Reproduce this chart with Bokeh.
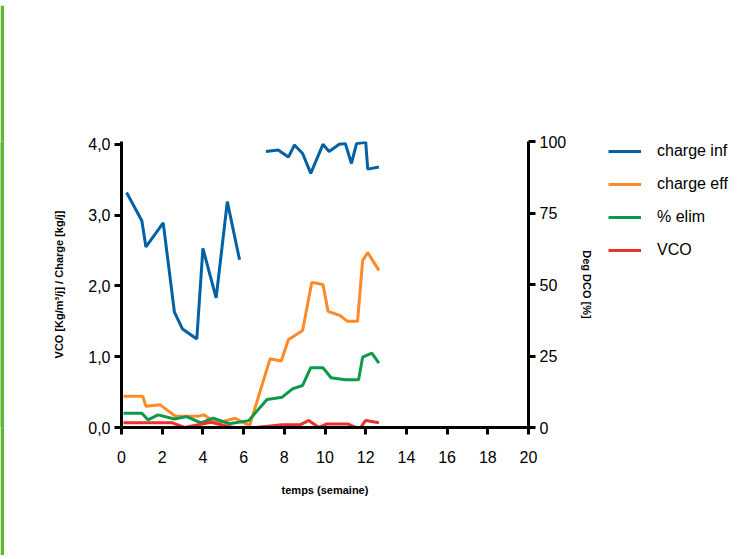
import math
from bokeh.plotting import figure
from bokeh.layouts import row, column
from bokeh.models import (Range1d, LinearAxis, Legend, LegendItem, CustomJSTickFormatter,
                          FixedTicker, ColumnDataSource)
from bokeh.embed import file_html
from bokeh.resources import INLINE

nan = float("nan")

# ---- data ----
weeks_inf = [0.25, 1.0, 1.2, 2.05, 2.6, 3.0, 3.7, 4.0, 4.65, 5.2, 5.8, nan,
             7.1, 7.7, 8.2, 8.5, 8.9, 9.3, 9.9, 10.2, 10.7, 11.0, 11.3, 11.55, 12.0, 12.1, 12.65]
charge_inf = [3.32, 2.92, 2.55, 2.89, 1.63, 1.39, 1.25, 2.53, 1.83, 3.19, 2.37, nan,
              3.90, 3.92, 3.82, 3.99, 3.87, 3.59, 4.00, 3.90, 4.00, 4.01, 3.73, 4.01, 4.03, 3.65, 3.68]

weeks_eff = [0.1, 1.05, 1.2, 1.9, 2.65, 3.8, 4.05, 4.4, 4.9, 5.6, 5.9, 6.3, 7.3, 7.85,
             8.2, 8.9, 9.35, 9.9, 10.15, 10.75, 11.1, 11.6, 11.85, 12.1, 12.65]
charge_eff = [0.44, 0.44, 0.30, 0.32, 0.16, 0.16, 0.18, 0.11, 0.08, 0.13, 0.08, 0.03, 0.97, 0.94,
              1.24, 1.37, 2.05, 2.02, 1.64, 1.58, 1.50, 1.50, 2.36, 2.47, 2.22]

weeks_elim = [0.1, 1.0, 1.3, 1.8, 2.6, 3.2, 3.9, 4.5, 5.3, 6.25, 7.15, 7.9, 8.4, 8.9,
              9.3, 9.9, 10.3, 11.0, 11.65, 11.85, 12.3, 12.65]
pct_elim = [5.0, 5.0, 2.7, 4.4, 3.0, 3.8, 1.6, 3.3, 1.3, 2.4, 9.8, 10.6, 13.5, 14.7,
            20.9, 20.9, 17.4, 16.7, 16.7, 24.6, 26.0, 22.5]

weeks_vco = [0.1, 2.5, 3.1, 4.4, 5.3, 6.0, 6.6, 7.9, 8.8, 9.2, 9.7, 10.1, 11.1, 11.7, 12.0, 12.65]
vco = [0.066, 0.066, 0.0, 0.075, 0.01, -0.02, 0.0, 0.04, 0.04, 0.10, 0.0, 0.05, 0.05, -0.02, 0.10, 0.066]

x_ticks = [0, 2, 4, 6, 8, 10, 12, 14, 16, 18, 20]
left_ticks = [0, 1, 2, 3, 4]
right_ticks = [0, 25, 50, 75, 100]

legend_labels = ["charge inf", "charge eff", "% elim", "VCO"]
colors = ["#0061a4", "#ff8a26", "#0b9a4a", "#e8322b"]
frame_green = "#5cb833"

LEFT_TOP = 4.04
RIGHT_TOP = 100.0

H = 550
W1 = 594
W2 = 147
FL, FR, FT, FB = 117, 524, 136, 422

FONT = "Liberation Sans"

p = figure(width=W1, height=H, output_backend="svg", toolbar_location=None,
           x_range=Range1d(0, 20), y_range=Range1d(0, LEFT_TOP),
           min_border_left=FL, min_border_right=W1 - FR,
           min_border_top=FT, min_border_bottom=H - FB)
p.extra_y_ranges = {"pct": Range1d(0, RIGHT_TOP)}
p.outline_line_color = None
p.xgrid.visible = False
p.ygrid.visible = False
p.background_fill_color = "white"
p.border_fill_color = "white"


def style_axis(ax):
    ax.axis_line_width = 3
    ax.axis_line_color = "black"
    ax.major_tick_line_width = 3
    ax.major_tick_line_color = "black"
    ax.major_tick_out = 7
    ax.major_tick_in = 0
    ax.minor_tick_line_color = None
    ax.major_label_text_font = FONT
    ax.major_label_text_font_size = "16px"
    ax.major_label_text_color = "black"
    ax.axis_label_text_font = FONT
    ax.axis_label_text_font_style = "bold"
    ax.axis_label_text_color = "black"


xa = p.xaxis[0]
style_axis(xa)
xa.ticker = FixedTicker(ticks=x_ticks)
xa.major_label_standoff = 16
xa.axis_label = "temps (semaine)"
xa.axis_label_text_font_size = "11px"
xa.axis_label_standoff = 18

ya = p.yaxis[0]
style_axis(ya)
ya.ticker = FixedTicker(ticks=left_ticks)
ya.formatter = CustomJSTickFormatter(code="return tick.toFixed(1).replace('.', ',');")
ya.major_label_standoff = 4
ya.axis_label = "VCO [Kg/m³/j] / Charge [kg/j]"
ya.axis_label_text_font_size = "11px"
ya.axis_label_standoff = 20

ra = LinearAxis(y_range_name="pct")
style_axis(ra)
ra.ticker = FixedTicker(ticks=right_ticks)
ra.major_label_standoff = 4
ra.axis_label = "Deg DCO [%]"
ra.axis_label_text_font_size = "11px"
ra.axis_label_standoff = 12
p.add_layout(ra, "right")

src_inf = ColumnDataSource(dict(x=weeks_inf, y=charge_inf))
p.line("x", "y", source=src_inf, line_color=colors[0], line_width=3)
p.line(weeks_eff, charge_eff, line_color=colors[1], line_width=3)
p.line(weeks_elim, pct_elim, y_range_name="pct", line_color=colors[2], line_width=3)
p.line(weeks_vco, vco, line_color=colors[3], line_width=3)

# ---- legend panel (same series, plotted out of view so only the key shows) ----
q = figure(width=W2, height=H, output_backend="svg", toolbar_location=None,
           x_range=Range1d(-200, -199), y_range=Range1d(0, LEFT_TOP),
           x_axis_type=None, y_axis_type=None,
           min_border_left=10, min_border_top=135, min_border_right=0, min_border_bottom=0)
q.extra_y_ranges = {"pct": Range1d(0, RIGHT_TOP)}
q.outline_line_color = None
q.background_fill_alpha = 0
q.border_fill_alpha = 0
k1 = q.line("x", "y", source=src_inf, line_color=colors[0], line_width=3)
k2 = q.line(weeks_eff, charge_eff, line_color=colors[1], line_width=3)
k3 = q.line(weeks_elim, pct_elim, y_range_name="pct", line_color=colors[2], line_width=3)
k4 = q.line(weeks_vco, vco, line_color=colors[3], line_width=3)

legend = Legend(items=[LegendItem(label=l, renderers=[r])
                       for l, r in zip(legend_labels, [k1, k2, k3, k4])],
                location="top_left")
legend.padding = 0
legend.margin = 0
legend.border_line_color = None
legend.background_fill_alpha = 0
legend.glyph_width = 33
legend.glyph_height = 20
legend.label_height = 20
legend.label_standoff = 16
legend.spacing = 13
legend.label_text_font = FONT
legend.label_text_font_size = "16px"
legend.label_text_color = "black"
q.add_layout(legend, "center")


def strip(w, h):
    s = figure(width=w, height=h, output_backend="svg", toolbar_location=None, title=None,
               x_axis_type=None, y_axis_type=None, min_border=0)
    s.outline_line_color = None
    s.background_fill_color = frame_green
    s.border_fill_color = frame_green
    return s


layout = column(strip(W1 + W2 + 4, 5), row(strip(4, H), p, q))
open("out.html", "w").write(file_html(layout, INLINE))
